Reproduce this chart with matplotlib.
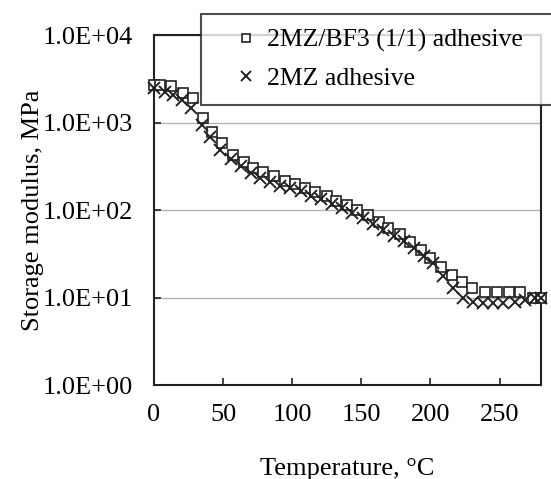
import matplotlib
matplotlib.use("Agg")
import matplotlib.pyplot as plt
from matplotlib.ticker import FixedLocator, FuncFormatter

plt.rcParams['font.family'] = ['Liberation Serif', 'DejaVu Serif']

# 2MZ/BF3 (1/1) adhesive (squares)
temp_bf3 = [0, 4, 12, 21, 28, 35.5, 42, 49, 57, 65, 71.5, 79, 87, 95, 102, 109,
            116.5, 125, 131.5, 139.5, 146.5, 154.5, 162.5, 169.5, 178, 185, 193,
            200, 207.5, 215.5, 222.5, 230, 239.5, 248, 256.5, 265, 274.5, 280]
mod_bf3 = [2650, 2700, 2600, 2200, 1900, 1130, 785, 583, 425, 354, 306, 272, 245,
           216, 198, 177, 162, 145, 128, 114, 100, 88, 73.5, 62, 53, 43, 35,
           28, 22.5, 18, 15.2, 12.7, 11.6, 11.6, 11.6, 11.6, 9.9, 9.9]

# 2MZ adhesive (crosses)
temp_2mz = [0, 8, 14, 20, 27, 34.5, 40.5, 48, 55.5, 63, 70, 77, 84, 91, 98.5, 106,
            113.5, 121, 128.5, 136, 143.5, 151, 158.5, 166, 173.5, 181, 188, 195,
            202, 209, 216, 223.5, 231, 238, 245, 252.5, 261, 268.5, 276, 280]
mod_2mz = [2480, 2250, 2060, 1800, 1450, 940, 690, 490, 380, 320, 265, 232, 210,
           188, 180, 163, 146, 132, 118, 105, 92, 81, 70, 59, 50, 44, 37, 30,
           24.5, 17.5, 12.8, 9.9, 9.0, 8.7, 8.7, 8.7, 9.0, 9.4, 9.8, 9.9]

labels = ["2MZ/BF3 (1/1) adhesive", "2MZ adhesive"]
x_ticks = [0, 50, 100, 150, 200, 250]
y_ticks = [1, 10, 100, 1000, 10000]

fig = plt.figure(figsize=(5.51, 4.79), dpi=100)
ax = fig.add_axes([0.2795, 0.1962, 0.7024, 0.7307])

ax.plot(temp_bf3, mod_bf3, linestyle="none", marker="s", markersize=7.5,
        markerfacecolor="white", markeredgecolor="#222222", markeredgewidth=1.2,
        label=labels[0], clip_on=False, zorder=3)
ax.plot(temp_2mz, mod_2mz, linestyle="none", marker="x", markersize=8,
        color="#222222", markeredgewidth=1.4, label=labels[1], clip_on=False,
        zorder=4)

ax.set_yscale("log")
ax.set_xlim(0, 280)
ax.set_ylim(1, 10000)
ax.xaxis.set_major_locator(FixedLocator(x_ticks))
ax.yaxis.set_major_locator(FixedLocator(y_ticks))
ax.yaxis.set_minor_locator(FixedLocator([]))
ax.yaxis.set_major_formatter(FuncFormatter(lambda v, p: f"{v:.1E}"))

ax.grid(axis="y", color="#b4b4b4", linewidth=1.0)
ax.set_axisbelow(True)
ax.tick_params(direction="in", length=5, width=1.2, labelsize=19, color="#222222")
ax.tick_params(axis="y", pad=15)
ax.tick_params(axis="x", pad=14)
for s in ax.spines.values():
    s.set_linewidth(1.5)
    s.set_color("#222222")

ax.set_xlabel("Temperature, °C", fontsize=19, labelpad=23)
ax.set_ylabel("Storage modulus, MPa", fontsize=19, labelpad=-1)

leg = fig.legend(loc="upper left", bbox_to_anchor=(0.365, 0.971, 0.75, 0.0),
                 mode="expand", fontsize=18.5, frameon=True, fancybox=False,
                 markerscale=0.85, handlelength=2.34, handletextpad=-0.35,
                 borderpad=0.58, labelspacing=0.58, borderaxespad=0)
leg.get_frame().set_edgecolor("#222222")
leg.get_frame().set_linewidth(1.5)

fig.savefig("out.png", dpi=100)
